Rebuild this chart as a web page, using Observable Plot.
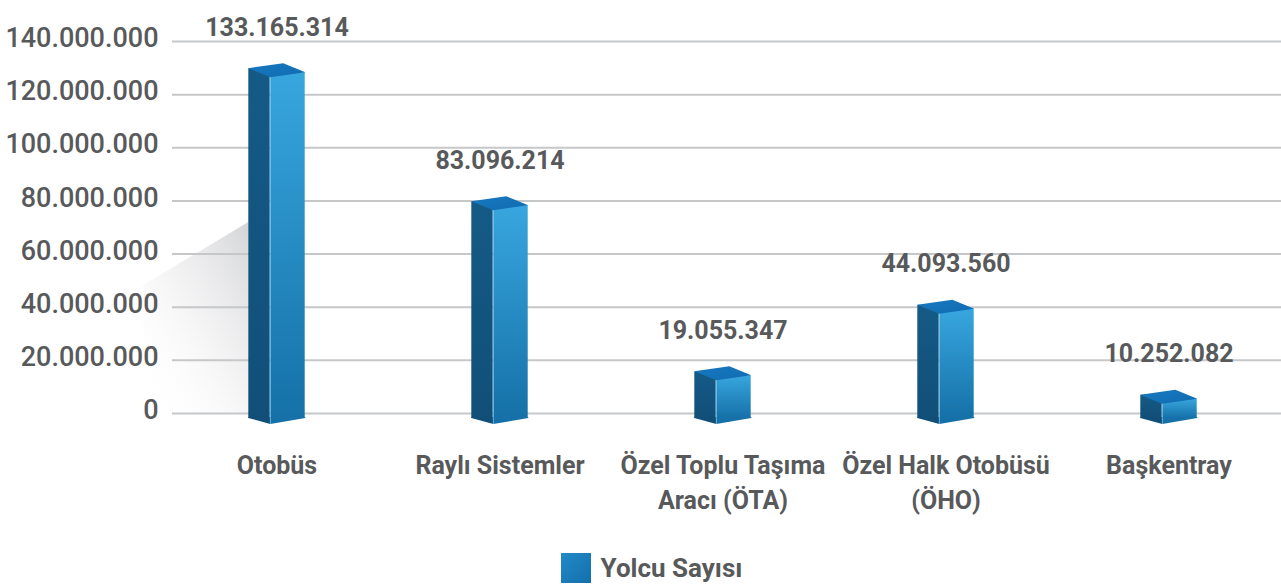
<!DOCTYPE html>
<html><head><meta charset="utf-8">
<script src="https://cdn.jsdelivr.net/npm/d3@7"></script>
<script src="https://cdn.jsdelivr.net/npm/@observablehq/plot@0.6"></script>
<style>
html,body{margin:0;padding:0;background:#fff;}
#legend{display:flex;align-items:center;justify-content:center;margin-top:13px;padding-left:22px;font-family:Roboto,"DejaVu Sans",sans-serif;font-weight:700;font-size:26px;line-height:30px;color:#58595b;}
#legend .sw{width:30px;height:30px;background:linear-gradient(135deg,#2389c9,#1270a9);margin-right:10px;}
</style></head>
<body><div id="chart"></div>
<script>
// ---- data ----
const categories = ["Otobüs", "Raylı Sistemler", "Özel Toplu Taşıma\nAracı (ÖTA)", "Özel Halk Otobüsü\n(ÖHO)", "Başkentray"];
const values = [133165314, 83096214, 19055347, 44093560, 10252082];
const yTicks = [0, 20000000, 40000000, 60000000, 80000000, 100000000, 120000000, 140000000];
const seriesName = "Yolcu Sayısı";

const data = categories.map((c, i) => ({category: c, value: values[i]}));
const trLocale = d3.formatLocale({decimal: ",", thousands: ".", grouping: [3], currency: ["", ""]});
const fmt = trLocale.format(",d");

// ---- layout / style ----
const W = 1281, H = 540, mL = 163, mR = 0, mT = 41, mB = 127;
const bw = (W - mL - mR) / categories.length;
const SIDE = 22, FRONT = 35, HALF = (SIDE + FRONT) / 2;
const TEXT = "#58595b";

function defsAndShadow(index, scales) {
  const {x, y} = scales;
  const g = d3.create("svg:g");
  const defs = g.append("defs");
  const fg = defs.append("linearGradient").attr("id", "frontGrad").attr("x1", 0).attr("y1", 0).attr("x2", 0).attr("y2", 1);
  fg.append("stop").attr("offset", "0%").attr("stop-color", "#38a6de");
  fg.append("stop").attr("offset", "100%").attr("stop-color", "#1571a8");
  const sg = defs.append("linearGradient").attr("id", "sideGrad").attr("x1", 0).attr("y1", 0).attr("x2", 0).attr("y2", 1);
  sg.append("stop").attr("offset", "0%").attr("stop-color", "#155a86");
  sg.append("stop").attr("offset", "100%").attr("stop-color", "#114f78");
  const tg = defs.append("linearGradient").attr("id", "topGrad").attr("x1", 0).attr("y1", 0).attr("x2", 1).attr("y2", 1);
  tg.append("stop").attr("offset", "0%").attr("stop-color", "#1778bf");
  tg.append("stop").attr("offset", "100%").attr("stop-color", "#116cb2");
  const shg = defs.append("linearGradient").attr("id", "shadowGrad").attr("x1", 1).attr("y1", 0).attr("x2", 0.1).attr("y2", 1);
  shg.append("stop").attr("offset", "0%").attr("stop-color", "#cfd0d3").attr("stop-opacity", 0.9);
  shg.append("stop").attr("offset", "50%").attr("stop-color", "#e9e9eb").attr("stop-opacity", 0.55);
  shg.append("stop").attr("offset", "100%").attr("stop-color", "#ffffff").attr("stop-opacity", 0);
  // decorative shadow left of the first box
  const c = x(categories[0]) + bw / 2;
  const L = c - HALF, y0 = y(0);
  const pts = [[L, y0 - 191], [L - 105, y0 - 128], [L - 105, y0], [L, y0]];
  g.append("polygon").attr("points", pts.map(p => p.join(",")).join(" ")).attr("fill", "url(#shadowGrad)");
  return g.node();
}

function boxDecor(index, scales) {
  const {x, y} = scales;
  const g = d3.create("svg:g");
  const y0 = y(0);
  data.forEach(d => {
    const c = x(d.category) + bw / 2;
    const L = c - HALF, F = L + SIDE, R = F + FRONT, B = L + FRONT;
    const yv = y(d.value);
    const poly = (pts, fill) => g.append("polygon").attr("points", pts.map(p => p.join(",")).join(" ")).attr("fill", fill);
    poly([[L, y0 + 4], [F, y0 + 4], [F, y0 + 11], [L, y0 + 5]], "#114f78");
    poly([[F, y0 + 4], [R, y0 + 4], [R, y0 + 5], [F, y0 + 11]], "#1571a8");
    g.append("line").attr("x1", F).attr("x2", F).attr("y1", yv + 18).attr("y2", y0 + 11)
      .attr("stroke", "#6cc0ec").attr("stroke-width", 1).attr("stroke-opacity", 0.7);
    poly([[L, yv + 9], [B, yv + 4], [R, yv + 13], [F, yv + 18]], "url(#topGrad)");
  });
  return g.node();
}

const chart = Plot.plot({
  width: W, height: H,
  marginLeft: mL, marginRight: mR, marginTop: mT, marginBottom: mB,
  x: {domain: categories, padding: 0, axis: null, label: null},
  y: {domain: [0, 140000000], axis: null, label: null},
  style: {fontFamily: "Roboto, 'DejaVu Sans', sans-serif", color: TEXT, background: "#fff", overflow: "visible"},
  marks: [
    defsAndShadow,
    Plot.gridY(yTicks, {stroke: "#c6c7c9", strokeOpacity: 1, strokeWidth: 2, insetLeft: 9}),
    Plot.axisY(yTicks, {anchor: "left", label: null, tickSize: 0, tickPadding: 5, tickFormat: fmt, fontSize: 27, fontWeight: 500, fill: TEXT, dy: -3}),
    Plot.axisX({anchor: "bottom", label: null, tickSize: 0, tickPadding: 35, fontSize: 25, fontWeight: 700, fill: TEXT, lineHeight: 1.42}),
    Plot.barY(data, {x: "category", y: "value", fill: "url(#sideGrad)", dy: 5, insetTop: 4,
      insetLeft: bw / 2 - HALF, insetRight: bw / 2 + HALF - SIDE}),
    Plot.barY(data, {x: "category", y: "value", fill: "url(#frontGrad)", dy: 5, insetTop: 8,
      insetLeft: bw / 2 - HALF + SIDE, insetRight: bw / 2 - HALF}),
    boxDecor,
    Plot.text(data, {x: "category", y: "value", text: d => fmt(d.value), dy: -24, lineAnchor: "bottom",
      fontSize: 25, fontWeight: 700, fill: TEXT})
  ]
});
document.getElementById("chart").appendChild(chart);

const legend = document.createElement("div");
legend.id = "legend";
legend.innerHTML = `<div class="sw"></div><span></span>`;
legend.querySelector("span").textContent = seriesName;
document.body.appendChild(legend);
</script>
</body></html>
